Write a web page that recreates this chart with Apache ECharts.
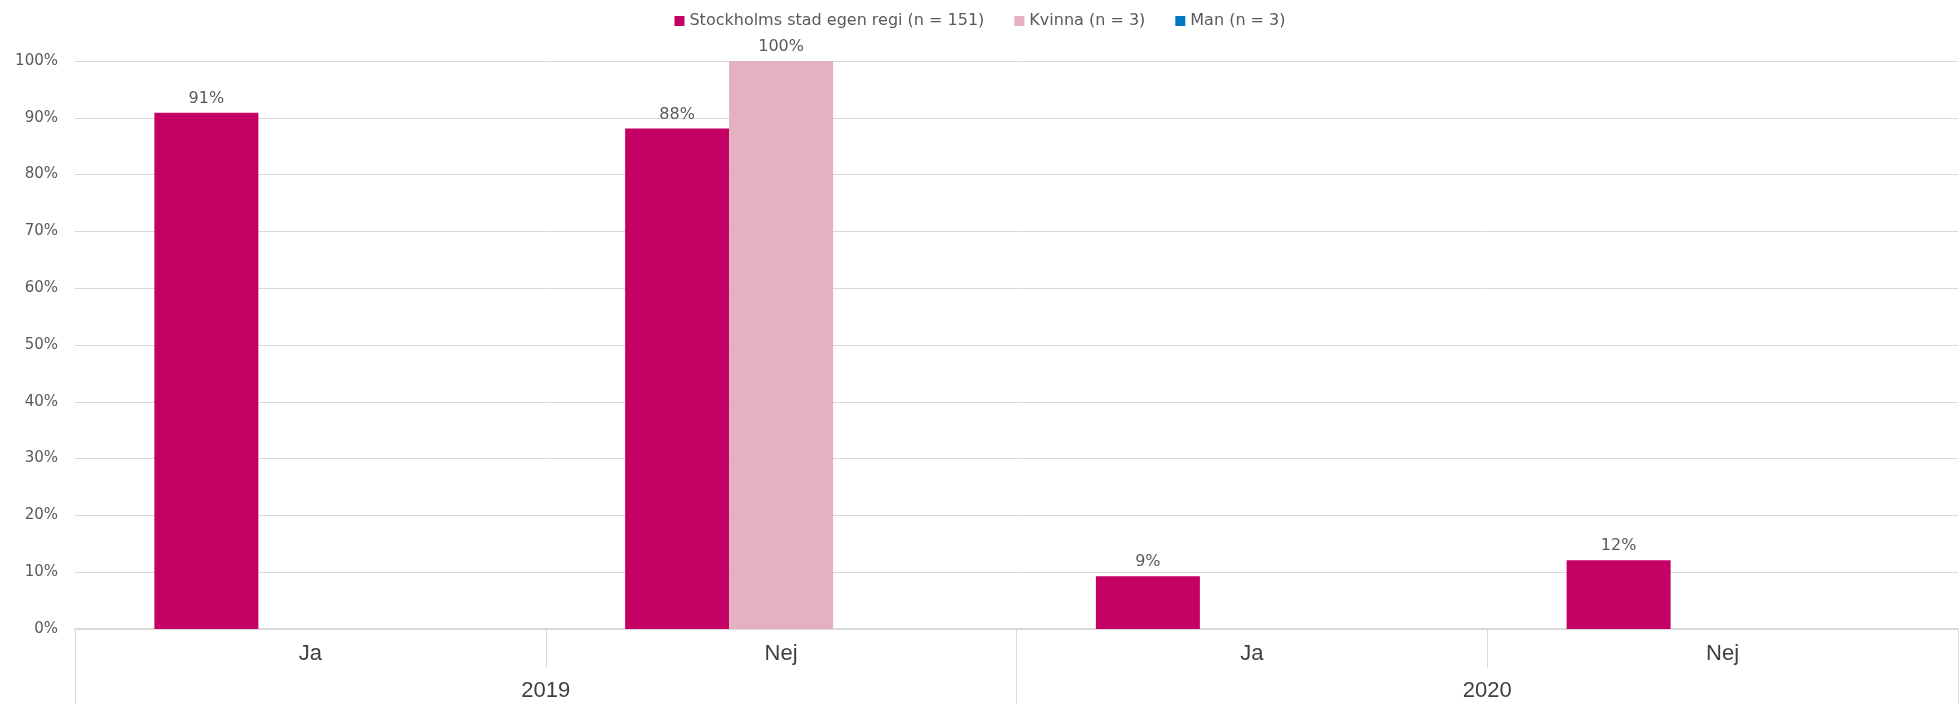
<!DOCTYPE html>
<html>
<head>
<meta charset="utf-8">
<script src="https://cdn.jsdelivr.net/npm/echarts@6/dist/echarts.min.js"></script>
<style>
  html, body { margin: 0; padding: 0; background: #fff; }
  #chart { width: 1960px; height: 704px; }
</style>
</head>
<body>
<div id="chart"></div>
<script>
// svar per år (Ja / Nej), andel i procent
var answers = ['Ja', 'Nej', 'Ja', 'Nej'];
var years = ['2019', '2020'];
var stockholm = [90.9, 88.1, 9.3, 12.1];
var kvinna = [null, 100, null, null];
var man = [null, null, null, null];
var yTicks = [0, 10, 20, 30, 40, 50, 60, 70, 80, 90, 100];

var catFont = '"Liberation Sans", Arial, sans-serif';
var wideFont = '"DejaVu Sans", sans-serif';
var gridColor = '#d9d9d9';

function barLabel() {
    return {
        show: true,
        position: 'top',
        distance: 6,
        color: '#595959',
        fontSize: 16,
        fontFamily: wideFont,
        formatter: function (p) {
            return Math.round(p.value) + '%';
        }
    };
}

var chart = echarts.init(document.getElementById('chart'));
chart.setOption({
    animation: false,
    legend: {
        top: 8,
        left: 'center',
        itemWidth: 10,
        itemHeight: 10,
        itemGap: 30,
        icon: 'rect',
        textStyle: { color: '#595959', fontSize: 16, fontFamily: wideFont },
        data: ['Stockholms stad egen regi (n = 151)', 'Kvinna (n = 3)', 'Man (n = 3)']
    },
    grid: { left: 75, right: 2, top: 61, bottom: 75, containLabel: false },
    xAxis: [
        {
            type: 'category',
            data: answers,
            axisLine: { lineStyle: { color: gridColor, width: 2 } },
            axisTick: { show: true, interval: 0, length: 39, lineStyle: { color: gridColor } },
            axisLabel: { color: '#404040', fontSize: 22, margin: 14, fontFamily: catFont }
        },
        {
            type: 'category',
            data: years,
            position: 'bottom',
            axisLine: { show: false },
            axisTick: { show: true, interval: 0, length: 80, lineStyle: { color: gridColor } },
            axisLabel: { color: '#404040', fontSize: 22, margin: 51, fontFamily: catFont }
        }
    ],
    yAxis: {
        type: 'value',
        min: yTicks[0],
        max: yTicks[yTicks.length - 1],
        interval: 10,
        axisLine: { show: false },
        axisTick: { show: false },
        splitLine: { lineStyle: { color: gridColor } },
        axisLabel: { formatter: '{value}%', color: '#595959', fontSize: 15, margin: 17, fontFamily: wideFont }
    },
    series: [
        {
            name: 'Stockholms stad egen regi (n = 151)',
            type: 'bar',
            barWidth: 104,
            barGap: '0%',
            color: '#C40064',
            label: barLabel(),
            data: stockholm
        },
        {
            name: 'Kvinna (n = 3)',
            type: 'bar',
            barWidth: 104,
            barGap: '0%',
            color: '#E4B1C2',
            label: barLabel(),
            data: kvinna
        },
        {
            name: 'Man (n = 3)',
            type: 'bar',
            barWidth: 104,
            barGap: '0%',
            color: '#0079C1',
            label: barLabel(),
            data: man
        }
    ]
});
</script>
</body>
</html>
